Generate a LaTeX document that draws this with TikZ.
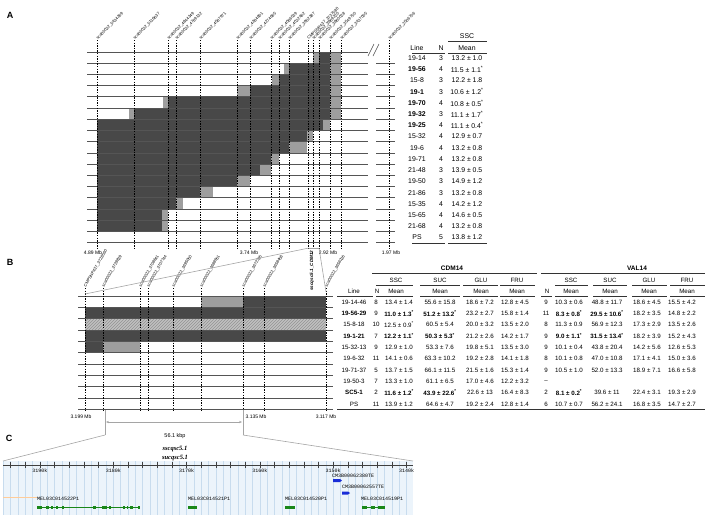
\documentclass[tikz,border=0pt]{standalone}
\usepackage{fontspec}
\setmainfont{Liberation Sans}
\setmonofont{Liberation Mono}
\newfontfamily\timesfont{Liberation Serif}
\usetikzlibrary{patterns,arrows.meta,positioning}
\definecolor{darkbar}{RGB}{72,72,72}
\definecolor{lightbar}{RGB}{158,158,158}
\definecolor{hatchbg}{RGB}{192,192,192}
\definecolor{rowline}{RGB}{85,85,85}
\definecolor{zoomgray}{RGB}{165,165,165}
\definecolor{trackbg}{RGB}{236,244,251}
\definecolor{gridblue}{RGB}{200,220,238}
\definecolor{genegreen}{RGB}{25,135,25}
\definecolor{geneblue}{RGB}{25,45,215}
\newcommand{\sig}{\textsuperscript{*}}

\begin{document}
\begin{tikzpicture}[
    x=1pt, y=-1pt,
    every node/.style={inner sep=0pt, outer sep=0pt},
    panel/.style={font=\fontsize{9}{10}\selectfont\bfseries},
    cell/.style={font=\fontsize{6.9}{7.5}\selectfont},
    bcell/.style={font=\fontsize{6.2}{7}\selectfont},
    mlabel/.style={font=\fontsize{4.1}{4.5}\selectfont, anchor=west, inner sep=0.3pt},
    axlabel/.style={font=\fontsize{5}{6}\selectfont},
    marker/.style={dash pattern=on 1.4pt off 1.2pt, line width=0.5pt},
    rowrule/.style={draw=rowline, line width=0.8pt},
    tabrule/.style={draw=black!80, line width=0.6pt},
    zoomline/.style={draw=zoomgray, line width=0.6pt},
    gene/.style={font=\fontsize{5}{6}\selectfont\ttfamily, anchor=west}
  ]
\useasboundingbox (0,0) rectangle (708,515);

% ---- panel A ----
\node[panel] (labA) at (10,15) {A};

% haplotype blocks
\foreach \r/\segs in {0/{313/319/lightbar,319/330/darkbar,330/341/lightbar},
    1/{284/289/lightbar,289/330/darkbar,330/341/lightbar},
    2/{272/279/lightbar,279/330/darkbar,330/341/lightbar},
    3/{237/250/lightbar,250/330/darkbar,330/341/lightbar},
    4/{163/168/lightbar,168/330/darkbar,330/341/lightbar},
    5/{129/134/lightbar,134/330/darkbar,330/341/lightbar},
    6/{97/323/darkbar,323/330/lightbar},
    7/{97/307/darkbar,307/313/lightbar},
    8/{97/289/darkbar,289/307/lightbar},
    9/{97/271/darkbar,271/279/lightbar},
    10/{97/260/darkbar,260/271/lightbar},
    11/{97/237/darkbar,237/250/lightbar},
    12/{97/200/darkbar,200/213/lightbar},
    13/{97/176/darkbar,176/183/lightbar},
    14/{97/162/darkbar,162/168/lightbar},
    15/{97/162/darkbar,162/168/lightbar}}
  \foreach \xa/\xb/\col in \segs
    \fill[\col] (\xa,{52+11.22*\r}) rectangle (\xb,{63.22+11.22*\r});

\foreach \i in {0,...,17}
  \draw[rowrule] (87,{52+11.22*\i}) -- (368,{52+11.22*\i});
\foreach \i in {1,...,17}
  \draw[rowrule] (376,{52+11.22*\i}) -- (395,{52+11.22*\i});
\draw[black!70, line width=0.5pt] (368,56) -- (374,44);
\draw[black!70, line width=0.5pt] (373,56) -- (379,44);

% markers
\foreach \x/\txt [count=\k] in {97/sca00022\_5434269, 134/sca00022\_5116637,
    168/sca00022\_4844349, 176/sca00022\_4789132, 200/sca00022\_4587971,
    237/sca00022\_4284801, 250/sca00022\_4274665, 271/sca00022\_4086539,
    279/sca00022\_4022462, 289/sca00022\_3952387, 308/CMPSNP437\_3737580,
    313/sca00022\_3869220, 319/sca00022\_3860028, 330/sca00022\_3549750,
    341/sca00022\_3437005, 389/sca00022\_2506706} {
  \draw[marker] (\x,40) -- (\x,249);
  \node[mlabel, rotate=45] (mA\k) at (\x,39) {\txt};
}

\node[axlabel] (axA1) at (93,253) {4.89 Mb};
\node[axlabel] (axA2) at (249,253) {3.74 Mb};
\node[axlabel] (axA3) at (328,253) {2.92 Mb};
\node[axlabel] (axA4) at (391,253) {1.97 Mb};

% table A
\node[cell] (hSSC) at (467,36) {SSC};
\draw[tabrule] (448,41) -- (487,41);
\node[cell] (hLine) at (417,48) {Line};
\node[cell] (hN) at (441,48) {N};
\node[cell] (hMean) at (467,48) {Mean};
\draw[tabrule] (412,53) -- (445,53);
\draw[tabrule] (448,53) -- (487,53);
\foreach \lname/\nc/\mv [count=\k from 0] in {19-14/3/13.2 ± 1.0,
    \textbf{19-56}/4/11.5 ± 1.1\sig, 15-8/3/12.2 ± 1.8, \textbf{19-1}/3/10.6 ± 1.2\sig,
    \textbf{19-70}/4/10.8 ± 0.5\sig, \textbf{19-32}/3/11.1 ± 1.7\sig,
    \textbf{19-25}/4/11.1 ± 0.4\sig, 15-32/4/12.9 ± 0.7, 19-6/4/13.2 ± 0.8,
    19-71/4/13.2 ± 0.8, 21-48/3/13.9 ± 0.5, 19-50/3/14.9 ± 1.2, 21-86/3/13.2 ± 0.8,
    15-35/4/14.2 ± 1.2, 15-65/4/14.6 ± 0.5, 21-68/4/13.2 ± 0.8, PS/5/13.8 ± 1.2} {
  \node[cell] (aLine\k) at (417,{58+11.22*\k}) {\lname};
  \node[cell] (aN\k) at (441,{58+11.22*\k}) {\nc};
  \node[cell] (aMean\k) at (467,{58+11.22*\k}) {\mv};
}
\draw[tabrule] (412,243) -- (445,243);
\draw[tabrule] (448,243) -- (487,243);

% ---- panel B ----
\node[panel] (labB) at (10,262) {B};

\fill[lightbar] (201,296) rectangle (243,307.33);
\fill[darkbar] (243,296) rectangle (326,307.33);
\fill[darkbar] (85,307.33) rectangle (326,318.67);
\fill[hatchbg] (85,318.67) rectangle (326,330);
\fill[pattern=north east lines, pattern color=gray!85] (85,318.67) rectangle (326,330);
\fill[darkbar] (85,330) rectangle (326,341.33);
\fill[darkbar] (85,341.33) rectangle (103,352.67);
\fill[lightbar] (103,341.33) rectangle (140,352.67);

\foreach \i in {0,...,10}
  \draw[rowrule] (78,{296+11.333*\i}) -- (333,{296+11.333*\i});

\foreach \x/\txt [count=\k] in {85/CMPSNP437\_3728560, 103/sca00022\_3728829,
    140/sca00022\_3708641, 148/sca00022\_3707744, 173/sca00022\_3695050,
    201/sca00022\_3688551, 243/sca00022\_3672395, 264/sca00022\_3658458,
    326/sca00022\_3656226} {
  \draw[marker] (\x,288) -- (\x,411);
  \node[mlabel, rotate=60] (mB\k) at (\x,287) {\txt};
}
\node[mlabel, rotate=90, font=\fontsize{4.6}{5}\selectfont\bfseries\itshape] (qtlB) at (312,291) {sscqsc5.1\_CDM12};

\node[axlabel] (axB1) at (81,417) {3.199 Mb};
\node[axlabel] (axB2) at (256,417) {3.135 Mb};
\node[axlabel] (axB3) at (326,417) {3.117 Mb};

% zoom from A to B
\coordinate (zA1) at (309,248);
\coordinate (zA2) at (319,248);
\coordinate (zB1) at (85,294);
\coordinate (zB2) at (326,292);
\draw[zoomline] (zA1) -- (zA2);
\draw[zoomline] (zA1) -- (zB1);
\draw[zoomline] (zA2) -- (zB2);

% table B
\node[bcell, font=\fontsize{6.5}{7}\selectfont\bfseries] (hCDM) at (452,268) {CDM14};
\node[bcell, font=\fontsize{6.5}{7}\selectfont\bfseries] (hVAL) at (637,268) {VAL14};
\draw[tabrule] (372,273) -- (537,273);
\draw[tabrule] (541,273) -- (705,273);
\foreach \x/\xa/\xb/\txt in {396/376/413/SSC, 440/420/460/SUC, 481/463/498/GLU,
    517/500/535/FRU, 571/555/588/SSC, 610/593/627/SUC, 649/632/667/GLU, 687/670/705/FRU} {
  \node[bcell] (hb\x) at (\x,280) {\txt};
  \draw[tabrule] (\xa,285) -- (\xb,285);
  \node[bcell] (hm\x) at (\x,291) {Mean};
  \draw[tabrule] (\xa,296) -- (\xb,296);
}
\node[bcell] (hbLine) at (354,291) {Line};
\node[bcell] (hbN) at (377,291) {N};
\node[bcell] (hbNv) at (547,291) {N};
\draw[tabrule] (337,296) -- (373,296);
\draw[tabrule] (541,296) -- (552,296);

\foreach \lname/\nc/\ca/\cb/\cc/\cd/\nv/\va/\vb/\vc/\vd [count=\k from 0] in {
    19-14-46/8/13.4 ± 1.4/55.6 ± 15.8/18.6 ± 7.2/12.8 ± 4.5/9/10.3 ± 0.6/48.8 ± 11.7/18.6 ± 4.5/15.5 ± 4.2,
    \textbf{19-56-29}/9/\textbf{11.0 ± 1.3\sig}/\textbf{51.2 ± 13.2\sig}/23.2 ± 2.7/15.8 ± 1.4/11/\textbf{8.3 ± 0.8\sig}/\textbf{29.5 ± 10.6\sig}/18.2 ± 3.5/14.8 ± 2.2,
    15-8-18/10/12.5 ± 0.9\sig/60.5 ± 5.4/20.0 ± 3.2/13.5 ± 2.0/8/11.3 ± 0.9/56.9 ± 12.3/17.3 ± 2.9/13.5 ± 2.6,
    \textbf{19-1-21}/7/\textbf{12.2 ± 1.1\sig}/\textbf{50.3 ± 5.3\sig}/21.2 ± 2.6/14.2 ± 1.7/9/\textbf{9.0 ± 1.1\sig}/\textbf{31.5 ± 13.4\sig}/18.2 ± 3.9/15.2 ± 4.3,
    15-32-13/9/12.9 ± 1.0/53.3 ± 7.6/19.8 ± 5.1/13.5 ± 3.0/9/10.1 ± 0.4/43.8 ± 20.4/14.2 ± 5.6/12.6 ± 5.3,
    19-6-32/11/14.1 ± 0.6/63.3 ± 10.2/19.2 ± 2.8/14.1 ± 1.8/8/10.1 ± 0.8/47.0 ± 10.8/17.1 ± 4.1/15.0 ± 3.6,
    19-71-37/5/13.7 ± 1.5/66.1 ± 11.5/21.5 ± 1.6/15.3 ± 1.4/9/10.5 ± 1.0/52.0 ± 13.3/18.9 ± 7.1/16.6 ± 5.8,
    19-50-3/7/13.3 ± 1.0/61.1 ± 6.5/17.0 ± 4.6/12.2 ± 3.2/--////,
    \textbf{SC5-1}/2/\textbf{11.6 ± 1.2\sig}/\textbf{43.9 ± 22.6\sig}/22.6 ± 13/16.4 ± 8.3/2/\textbf{8.1 ± 0.2\sig}/39.6 ± 11/22.4 ± 3.1/19.3 ± 2.9,
    PS/11/13.9 ± 1.2/64.6 ± 4.7/19.2 ± 2.4/12.8 ± 1.4/6/10.7 ± 0.7/56.2 ± 24.1/16.8 ± 3.5/14.7 ± 2.7} {
  \pgfmathsetmacro\yrow{302+11.333*\k}
  \node[bcell] (bLine\k) at (354,\yrow) {\lname};
  \node[bcell] (bN\k) at (376,\yrow) {\nc};
  \node[bcell] (cdmSSC\k) at (399,\yrow) {\ca};
  \node[bcell] (cdmSUC\k) at (440,\yrow) {\cb};
  \node[bcell] (cdmGLU\k) at (480,\yrow) {\cc};
  \node[bcell] (cdmFRU\k) at (515,\yrow) {\cd};
  \node[bcell] (valN\k) at (546,\yrow) {\nv};
  \node[bcell] (valSSC\k) at (569,\yrow) {\va};
  \node[bcell] (valSUC\k) at (607,\yrow) {\vb};
  \node[bcell] (valGLU\k) at (647,\yrow) {\vc};
  \node[bcell] (valFRU\k) at (682,\yrow) {\vd};
}
\draw[tabrule] (337,409.5) -- (705,409.5);

% interval of the QTL
\coordinate (kL) at (105,410);
\coordinate (kR) at (243,410);
\coordinate (kLb) at (105,435);
\coordinate (kRb) at (243,435);
\coordinate (kA1) at (106,422);
\coordinate (kA2) at (242,422);
\draw[zoomline] (kL) -- (kLb);
\draw[zoomline] (kR) -- (kRb);
\draw[zoomline, {Stealth[length=3pt,width=2.4pt]}-{Stealth[length=3pt,width=2.4pt]}] (kA1) -- (kA2);
\node[axlabel, font=\fontsize{5.5}{6}\selectfont] (kbp) at (175,436) {56.1 kbp};

% ---- panel C ----
\node[panel] (labC) at (9,438) {C};
\node[font=\fontsize{6.5}{7}\selectfont\timesfont\bfseries\itshape] (qtl1) at (175,449) {sscqsc5.1};
\node[font=\fontsize{6.5}{7}\selectfont\timesfont\bfseries\itshape] (qtl2) at (175,458) {sucqsc5.1};

\coordinate (cL) at (3,461);
\coordinate (cR) at (413,461);
\fill[trackbg] (3,461) rectangle (413,515);
\foreach \k in {3140,...,3195}
  \draw[gridblue, line width=0.5pt] ({40+(3190-\k)*7.33},461) -- ({40+(3190-\k)*7.33},515);
\draw[zoomline] (kLb) -- (cL);
\draw[zoomline] (kRb) -- (cR);
\draw[black!75, line width=0.5pt] (3,465) -- (413,465);
\foreach \k in {3140,3142,...,3194}
  \draw[black!75, line width=0.4pt] ({40+(3190-\k)*7.33},462) -- ({40+(3190-\k)*7.33},468);
\foreach \k in {3140,3150,...,3190}
  \node[gene, anchor=north] (tick\k) at ({40+(3190-\k)*7.33},469) {\k k};

\draw[orange!40, line width=0.4pt] (3,497) -- (37,497);

% genes
\node[gene] (g380) at (332,476) {CM3B00062380TE};
\fill[geneblue] (333,479) -- (340,479) -- (342,480.5) -- (340,482) -- (333,482) -- cycle;
\node[gene] (g557) at (342,487) {CM3B00062557TE};
\fill[geneblue] (342,491.5) -- (348,491.5) -- (350,493) -- (348,494.5) -- (342,494.5) -- cycle;

\node[gene] (g522) at (37,499) {MEL03C014522P1};
\draw[genegreen, line width=0.5pt] (37,507) -- (140,507);
\foreach \xa/\xb in {37/42, 46/49, 51/53, 56/58, 62/64, 93/96, 102/107, 109/111, 123/125, 127/128, 130/133, 138/140}
  \fill[genegreen] (\xa,505.5) rectangle (\xb,508.5);
\node[gene] (g521) at (188,499) {MEL03C014521P1};
\fill[genegreen] (188,505.5) rectangle (197,508.5);
\node[gene] (g520) at (285,499) {MEL03C014520P1};
\fill[genegreen] (285,505.5) rectangle (295,508.5);
\node[gene] (g519) at (361,499) {MEL03C014519P1};
\draw[genegreen, line width=0.5pt] (362,507) -- (385,507);
\foreach \xa/\xb in {362/367, 371/375, 378/385}
  \fill[genegreen] (\xa,505.5) rectangle (\xb,508.5);
\end{tikzpicture}
\end{document}
